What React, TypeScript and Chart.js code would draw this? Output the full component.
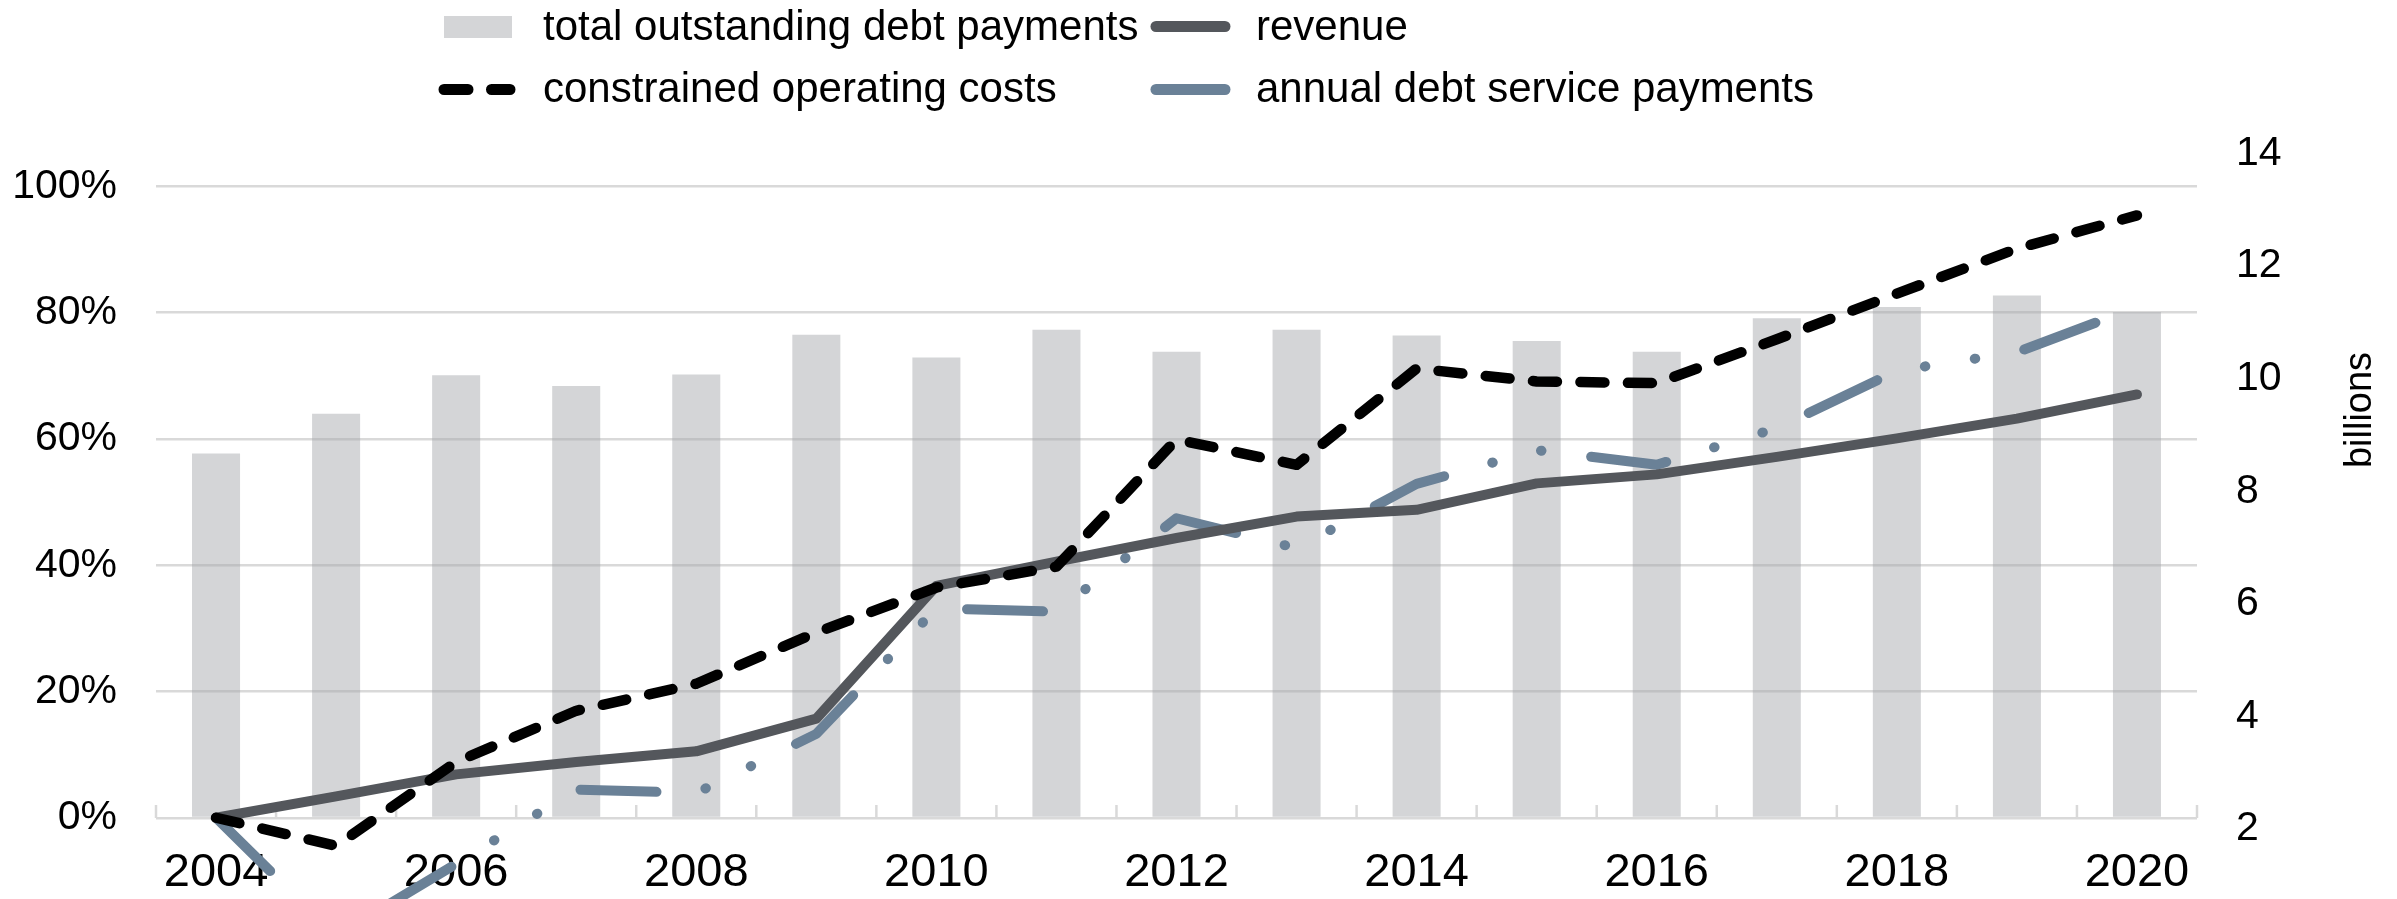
import React, { useEffect, useRef } from "react";
import { Chart, registerables } from "chart.js";

Chart.register(...registerables);

const years = ["2004", "2005", "2006", "2007", "2008", "2009", "2010", "2011", "2012", "2013", "2014", "2015", "2016", "2017", "2018", "2019", "2020"];
const totalOutstandingDebtPayments = [57.7, 64.0, 70.1, 68.4, 70.2, 76.5, 72.9, 77.3, 73.8, 77.3, 76.4, 75.5, 73.8, 79.1, 80.9, 82.7, 80.1];
const revenue = [2.2, 2.58, 2.97, 3.19, 3.38, 3.96, 6.32, 6.75, 7.17, 7.55, 7.67, 8.14, 8.3, 8.61, 8.94, 9.29, 9.72];
const constrainedOperatingCosts = [2.2, 1.7, 3.19, 4.1, 4.58, 5.49, 6.29, 6.66, 8.92, 8.47, 10.18, 9.95, 9.92, 10.7, 11.51, 12.31, 12.9];
const annualDebtServicePayments = [2.2, 0.1, 1.38, 2.7, 2.64, 3.69, 5.92, 5.86, 7.52, 6.99, 8.13, 8.73, 8.47, 9.12, 10.14, 10.47, 11.27];
const leftTicks = [0, 20, 40, 60, 80, 100];
const rightTicks = [2, 4, 6, 8, 10, 12, 14];
const shownYearLabels = ["2004", "2006", "2008", "2010", "2012", "2014", "2016", "2018", "2020"];
const rightAxisTitle = "billions";

const FONT = "'Liberation Sans', Arial, Helvetica, sans-serif";
const BAR_COLOR = "rgba(163,166,170,0.47)";
const REVENUE_COLOR = "#54575c";
const COST_COLOR = "#000000";
const DEBT_COLOR = "#6a8197";
const GRID_COLOR = "#d9d9d9";

const minorTicksPlugin = {
  id: "minorTicks",
  beforeDatasetsDraw(chart: any) {
    const ctx = chart.ctx;
    const xs = chart.scales.x;
    const yl = chart.scales.yL;
    const x0 = xs.getPixelForValue(0);
    const step = xs.getPixelForValue(1) - x0;
    const y0 = yl.getPixelForValue(0);
    ctx.save();
    ctx.strokeStyle = GRID_COLOR;
    ctx.lineWidth = 2.5;
    for (let i = 0; i <= years.length; i++) {
      const x = x0 - step / 2 + i * step;
      ctx.beginPath();
      ctx.moveTo(x, y0);
      ctx.lineTo(x, y0 - 13);
      ctx.stroke();
    }
    ctx.restore();
  },
};

const legendPlugin = {
  id: "customLegend",
  afterDraw(chart: any) {
    const ctx = chart.ctx;
    const ds = chart.data.datasets;
    ctx.save();
    ctx.font = `42px ${FONT}`;
    ctx.fillStyle = "#000";
    ctx.textAlign = "left";
    ctx.textBaseline = "alphabetic";

    const drawLine = (x1: number, x2: number, y: number, color: string, w: number, dash: number[]) => {
      ctx.save();
      ctx.strokeStyle = color;
      ctx.lineWidth = w;
      ctx.lineCap = "round";
      ctx.setLineDash(dash);
      ctx.beginPath();
      ctx.moveTo(x1, y);
      ctx.lineTo(x2, y);
      ctx.stroke();
      ctx.restore();
    };

    // row 1, col 1: bars
    ctx.fillStyle = "#ffffff";
    ctx.fillRect(444, 16, 68, 22);
    ctx.fillStyle = ds[0].backgroundColor;
    ctx.fillRect(444, 16, 68, 22);
    ctx.fillStyle = "#000";
    ctx.fillText(ds[0].label, 543, 39.5);

    // row 1, col 2: revenue
    drawLine(1156, 1225, 26.5, ds[1].borderColor, 11, []);
    ctx.fillText(ds[1].label, 1256, 39.5);

    // row 2, col 1: constrained operating costs
    drawLine(444, 510, 89.5, ds[2].borderColor, 11, ds[2].borderDash);
    ctx.fillText(ds[2].label, 543, 102);

    // row 2, col 2: annual debt service payments
    drawLine(1156, 1225, 89.5, ds[3].borderColor, 11, []);
    ctx.fillText(ds[3].label, 1256, 102);

    // right axis title
    ctx.save();
    ctx.font = `38px ${FONT}`;
    ctx.translate(2361, 410);
    ctx.rotate(-Math.PI / 2);
    ctx.textAlign = "center";
    ctx.textBaseline = "middle";
    ctx.fillText(rightAxisTitle, 0, 0);
    ctx.restore();

    ctx.restore();
  },
};

export default function App() {
  const canvasRef = useRef<HTMLCanvasElement | null>(null);

  useEffect(() => {
    document.body.style.margin = "0";
    const canvas = canvasRef.current;
    if (!canvas) return;
    Chart.defaults.font.family = FONT;
    const chart = new Chart(canvas, {
      type: "bar",
      data: {
        labels: years,
        datasets: [
          {
            type: "bar",
            label: "total outstanding debt payments",
            data: totalOutstandingDebtPayments,
            backgroundColor: BAR_COLOR,
            borderWidth: 0,
            yAxisID: "yL",
            barPercentage: 0.4,
            categoryPercentage: 1,
            order: 4,
          },
          {
            type: "line",
            label: "revenue",
            data: revenue,
            borderColor: REVENUE_COLOR,
            backgroundColor: REVENUE_COLOR,
            borderWidth: 10,
            borderCapStyle: "round",
            borderJoinStyle: "round",
            pointRadius: 0,
            tension: 0,
            yAxisID: "yR",
            clip: false,
            order: 2,
          },
          {
            type: "line",
            label: "constrained operating costs",
            data: constrainedOperatingCosts,
            borderColor: COST_COLOR,
            backgroundColor: COST_COLOR,
            borderWidth: 10.5,
            borderDash: [24, 23.5],
            borderCapStyle: "round",
            borderJoinStyle: "round",
            pointRadius: 0,
            tension: 0,
            yAxisID: "yR",
            clip: false,
            order: 1,
          },
          {
            type: "line",
            label: "annual debt service payments",
            data: annualDebtServicePayments,
            borderColor: DEBT_COLOR,
            backgroundColor: DEBT_COLOR,
            borderWidth: 10,
            borderDash: [76, 50, 0.5, 50, 0.5, 50],
            borderCapStyle: "round",
            borderJoinStyle: "round",
            pointRadius: 0,
            tension: 0,
            yAxisID: "yR",
            clip: false,
            order: 3,
          },
        ],
      },
      options: {
        responsive: false,
        animation: false,
        devicePixelRatio: 1,
        layout: { padding: { top: 153.5, left: 0, right: 0, bottom: 0 } },
        plugins: {
          legend: { display: false },
          tooltip: { enabled: false },
          title: { display: false },
        },
        scales: {
          x: {
            type: "category",
            offset: true,
            grid: { display: false, drawTicks: false },
            border: { display: false },
            ticks: {
              autoSkip: false,
              maxRotation: 0,
              minRotation: 0,
              color: "#000",
              font: { size: 47 },
              padding: 16,
              callback: (_v: any, i: number) => (shownYearLabels.includes(years[i]) ? years[i] : ""),
            },
            afterFit: (s: any) => {
              s.height = 70;
            },
          },
          yL: {
            type: "linear",
            position: "left",
            min: -1.74,
            max: 105.2,
            afterBuildTicks: (s: any) => {
              s.ticks = leftTicks.map((v) => ({ value: v }));
            },
            grid: { color: GRID_COLOR, lineWidth: 2.5, drawTicks: false },
            border: { display: false },
            ticks: {
              color: "#000",
              font: { size: 41 },
              padding: 39,
              callback: (v: any) => `${v}%`,
            },
            afterFit: (s: any) => {
              s.width = 156;
            },
          },
          yR: {
            type: "linear",
            position: "right",
            min: 2,
            max: 14,
            afterBuildTicks: (s: any) => {
              s.ticks = rightTicks.map((v) => ({ value: v }));
            },
            grid: { display: false, drawTicks: false },
            border: { display: false },
            ticks: {
              color: "#000",
              font: { size: 41 },
              padding: 39,
              callback: (v: any) => `${v}`,
            },
            afterFit: (s: any) => {
              s.width = 200;
            },
          },
        },
      },
      plugins: [minorTicksPlugin, legendPlugin],
    } as any);
    return () => chart.destroy();
  }, []);

  return (
    <div style={{ width: 2397, height: 899, background: "#fff" }}>
      <canvas ref={canvasRef} width={2397} height={899} style={{ display: "block" }} />
    </div>
  );
}
